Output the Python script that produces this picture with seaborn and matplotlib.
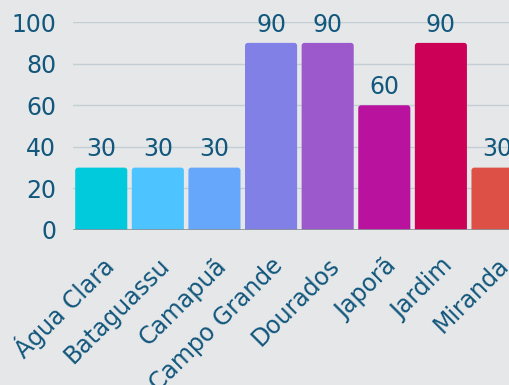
import matplotlib
matplotlib.use("Agg")
import matplotlib.pyplot as plt
import matplotlib.transforms as mtransforms
from matplotlib.patches import FancyBboxPatch
import pandas as pd
import seaborn as sns

# chart data
cities = ["Água Clara", "Bataguassu", "Camapuã", "Campo Grande",
          "Dourados", "Japorã", "Jardim", "Miranda"]
values = [30, 30, 30, 90, 90, 60, 90, 30]
colors = ["#00CADC", "#4DC4FF", "#66A7FB", "#8080E6",
          "#9B59CC", "#B8129E", "#CD0058", "#DD5045"]
yticks = [0, 20, 40, 60, 80, 100]

BG = "#E5E7E9"
TEXT = "#12577C"
GRID = "#C3CFD5"

df = pd.DataFrame({"city": cities, "value": values})

sns.set_theme(style="white")
plt.rcParams["font.family"] = ["DejaVu Sans"]

fig = plt.figure(figsize=(5.1, 3.85), dpi=100, facecolor=BG)
ax = fig.add_axes([0.143, 0.4026, 0.888, 0.540])
ax.set_facecolor(BG)

sns.barplot(data=df, x="city", y="value", hue="city", palette=colors,
            width=0.92, saturation=1, linewidth=0, legend=False, ax=ax, zorder=3)

# swap the plain bars for ones with slightly rounded tops
for p in list(ax.patches):
    x, y, w, h = p.get_x(), p.get_y(), p.get_width(), p.get_height()
    bar = FancyBboxPatch((x, y - 5), w, h + 5,
                         boxstyle="round,pad=0,rounding_size=0.05",
                         mutation_aspect=27, fc=p.get_facecolor(), ec="none", zorder=3)
    p.remove()
    ax.add_patch(bar)

ax.set_ylim(0, 100)
ax.set_yticks(yticks)
ax.grid(axis="y", color=GRID, linewidth=1, zorder=0)
ax.axhline(0, color="#8A9399", linewidth=1.2, zorder=4)
for s in ax.spines.values():
    s.set_visible(False)

ax.tick_params(axis="y", colors=TEXT, labelsize=17, length=0, pad=12)
ax.tick_params(axis="x", colors=TEXT, labelsize=17, length=0, pad=0)
ax.set_xlabel("")
ax.set_ylabel("")

# rotated city labels, shifted so their ends sit just right of each bar centre
shift = mtransforms.ScaledTranslation(8 / 100, -32 / 100, fig.dpi_scale_trans)
for lbl in ax.get_xticklabels():
    lbl.set_rotation(45)
    lbl.set_ha("right")
    lbl.set_va("center")
    lbl.set_rotation_mode("anchor")
    lbl.set_transform(lbl.get_transform() + shift)

for i, v in enumerate(values):
    ax.text(i, v + 3, str(v), ha="center", va="bottom", color=TEXT, fontsize=17, zorder=5)

fig.savefig("out.png", dpi=100, facecolor=BG)
